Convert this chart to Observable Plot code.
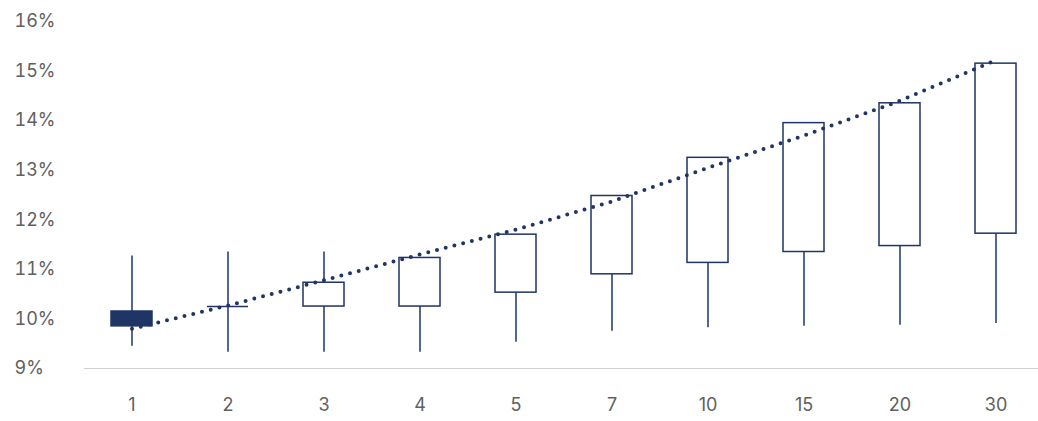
<!DOCTYPE html>
<html><head><meta charset="utf-8">
<script src="https://cdn.jsdelivr.net/npm/d3@7"></script>
<script src="https://cdn.jsdelivr.net/npm/@observablehq/plot@0.6"></script>
<style>body{margin:0;background:#fff}</style>
</head><body><div id="chart"></div>
<script>
const categories = ["1","2","3","4","5","7","10","15","20","30"];
const openVals  = [10.15,10.25,10.25,10.25,10.53,10.90,11.13,11.35,11.47,11.72];
const closeVals = [9.85,10.25,10.73,11.23,11.70,12.48,13.25,13.95,14.35,15.15];
const highVals  = [11.27,11.35,11.35,11.23,11.70,12.48,13.25,13.95,14.35,15.15];
const lowVals   = [9.45,9.33,9.33,9.33,9.53,9.75,9.82,9.85,9.87,9.91];
const trendVals = [9.8,10.27,10.78,11.3,11.8,12.37,13.05,13.7,14.4,15.22];
const yTicks = [9,10,11,12,13,14,15,16];
const navy = "#1f3566";
const data = categories.map((c,i)=>({c, o:openVals[i], cl:closeVals[i], h:highVals[i], l:lowVals[i], t:trendVals[i], down: closeVals[i]<openVals[i]}));
const chart = Plot.plot({
  width:1038, height:421,
  marginLeft:84, marginRight:0, marginTop:21, marginBottom:53,
  style:{fontFamily:"Inter, Roboto, sans-serif", fontSize:"18px", color:"#606060"},
  x:{domain:categories, range:[84,1044], paddingInner:0.57, paddingOuter:0.285, label:null, tickSize:0, tickPadding:30},
  y:{domain:[9,16], ticks:yTicks, tickFormat:d=>d+"%", label:null, tickSize:0, tickPadding:0},
  marks:[
    Plot.axisY({ticks:yTicks, tickFormat:d=>d+"%", tickSize:0, textAnchor:"start", dx:-61, fontSize:18, fill:"#606060"}),
    Plot.ruleY([9],{stroke:"#d0d0d0", strokeWidth:1}),
    Plot.ruleX(data,{x:"c", y1:"l", y2:"h", stroke:navy, strokeWidth:1.5}),
    Plot.barY(data,{x:"c", y1:"o", y2:"cl", fill:d=>d.down?navy:"white", stroke:navy, strokeWidth:1.5}),
    Plot.tickY(data.filter(d=>d.o===d.cl),{x:"c", y:"o", stroke:navy, strokeWidth:1.5}),
    Plot.line(data,{x:"c", y:"t", stroke:navy, strokeWidth:4, strokeDasharray:"0 9", strokeLinecap:"round"})
  ]
});
document.getElementById("chart").append(chart);
</script></body></html>
